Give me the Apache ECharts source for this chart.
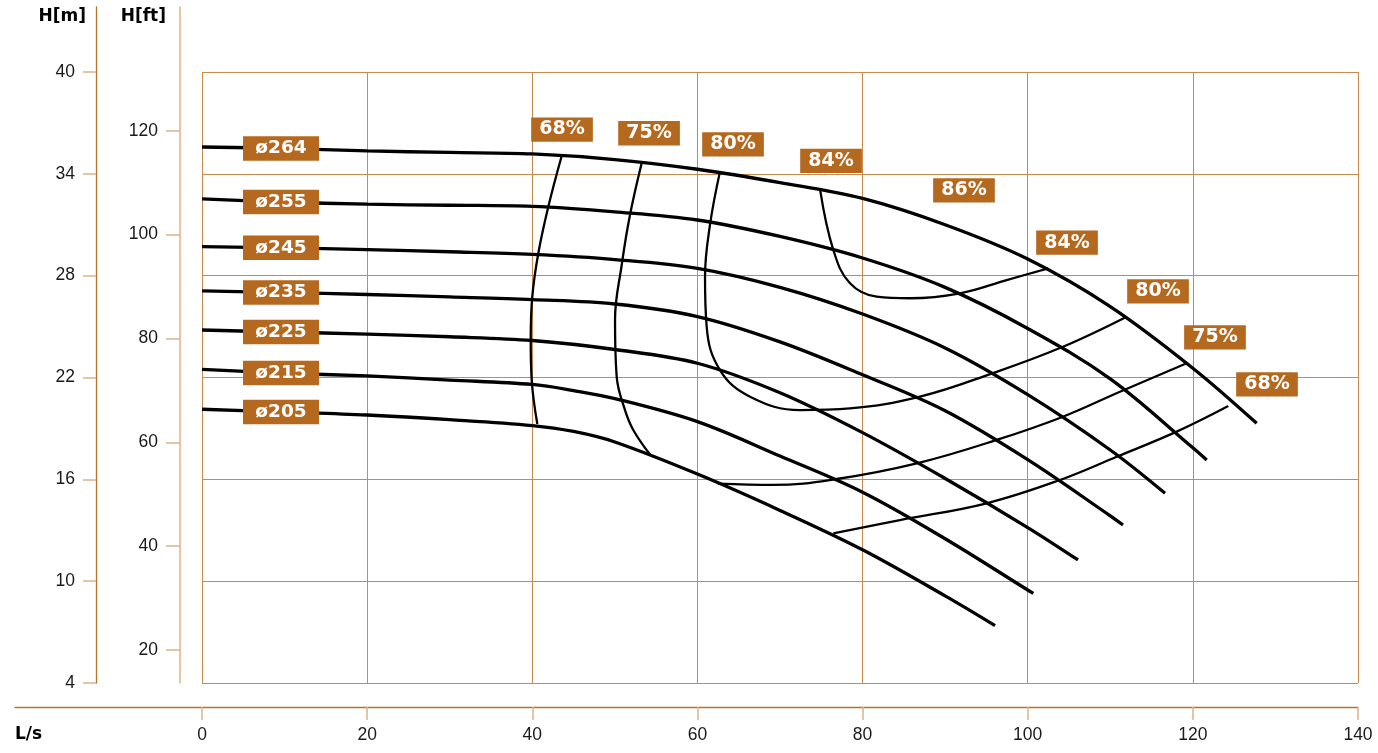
<!DOCTYPE html>
<html><head><meta charset="utf-8">
<script src="https://cdn.jsdelivr.net/npm/echarts@6/dist/echarts.min.js"></script>
<style>html,body{margin:0;padding:0;background:#fff}#c{width:1378px;height:753px}</style>
</head><body><div id="c"></div>
<script>
// ---- tick values ----
const xTicks = [0, 20, 40, 60, 80, 100, 120, 140];      // L/s
const hmTicks = [4, 10, 16, 22, 28, 34, 40];            // H[m]
const hftTicks = [20, 40, 60, 80, 100, 120];            // H[ft]

// ---- pump curves [Q (L/s), H (m)] ----
const d264 = [[0,35.58],[9.57,35.50],[20,35.35],[30,35.26],[40,35.17],[50,34.84],[60,34.27],[70,33.48],[80,32.55],[90,31.00],[100,28.98],[110,26.18],[120,22.55],[127.73,19.30]];
const d255 = [[0,32.52],[9.57,32.34],[20,32.21],[30,32.15],[40,32.08],[50,31.76],[60,31.28],[70,30.31],[80,29.04],[90,27.31],[100,24.89],[110,21.92],[120,17.86],[121.68,17.14]];
const d245 = [[0,29.71],[9.57,29.64],[20,29.54],[30,29.41],[40,29.25],[50,28.95],[60,28.43],[70,27.31],[80,25.74],[90,23.74],[100,20.99],[110,17.73],[116.63,15.18]];
const d235 = [[0,27.10],[9.57,27.01],[20,26.89],[30,26.75],[40,26.59],[50,26.33],[60,25.59],[70,24.10],[80,22.16],[90,20.04],[100,17.16],[110,13.85],[111.54,13.31]];
const d225 = [[0,24.80],[9.57,24.68],[20,24.56],[30,24.40],[40,24.18],[50,23.65],[60,22.84],[70,21.10],[80,18.75],[90,16.05],[100,13.16],[106.09,11.25]];
const d215 = [[0,22.48],[9.57,22.26],[20,22.09],[30,21.85],[40,21.59],[45,21.23],[50,20.76],[60,19.40],[70,17.37],[80,15.24],[90,12.50],[100,9.48],[100.68,9.28]];
const d205 = [[0,20.13],[9.57,19.97],[20,19.79],[30,19.52],[40,19.17],[45,18.82],[50,18.20],[60,16.31],[70,14.17],[80,11.85],[90,9.13],[96.04,7.38]];
const pumpNames = ['ø264', 'ø255', 'ø245', 'ø235', 'ø225', 'ø215', 'ø205'];
const pumpData = [d264, d255, d245, d235, d225, d215, d205];

// ---- efficiency iso-curves [Q (L/s), H (m)] ----
const e68a = [[43.56,35.05],[41.94,32.06],[40.73,29.32],[40.0,26.76],[39.81,24.21],[39.93,21.85],[40.61,19.26]];
const e68b = [[76.46,12.82],[84.53,13.60],[95.03,14.59],[103.91,15.96],[110.78,17.33],[118.04,18.81],[124.29,20.32]];
const e75a = [[53.25,34.64],[51.83,31.57],[50.83,28.63],[50.02,25.39],[50.22,22.05],[51.23,20.08],[52.23,18.91],[54.26,17.46]];
const e75b = [[62.49,15.75],[69.15,15.67],[76.87,16.02],[86.56,16.94],[96.24,18.32],[104.27,19.69],[111.17,21.16],[119.25,22.84]];
const e80 = [[62.73,34.13],[61.52,30.99],[60.92,27.94],[61.12,24.99],[62.73,22.44],[66.37,20.87],[72.42,20.08],[78.48,20.18],[86.95,20.87],[95.8,22.26],[104.27,23.81],[111.99,25.58]];
const e84 = [[74.84,33.11],[76.46,29.51],[78.48,27.55],[81.71,26.76],[85.74,26.67],[91.8,26.96],[97.45,27.74],[102.49,28.43]];
const effCurves = [e68a, e68b, e75a, e75b, e80, e84];

// ---- efficiency labels: text and anchor [Q, H] ----
const effLabelText = ['68%', '75%', '80%', '84%', '86%', '84%', '80%', '75%', '68%'];
const effLabelQ = [43.60, 54.14, 64.31, 76.18, 92.28, 104.76, 115.78, 122.68, 128.98];
const effLabelH = [36.61, 36.39, 35.73, 34.76, 33.02, 29.95, 27.08, 24.37, 21.60];

// ---- styles ----
const BROWN = '#B4691F';
const AXIS = '#B8722C';
const TAN = '#DDB38A';
const GRID = '#C98B4C';
const TXT = '#1a1a1a';
const REG = 'Liberation Sans';
const BOLD = 'DejaVu Sans';

const chart = echarts.init(document.getElementById('c'), null, {renderer: 'canvas'});

const series = [];
pumpData.forEach((d, i) => {
  series.push({
    type: 'line', xAxisIndex: 0, yAxisIndex: 0, data: d, smooth: 0.35,
    showSymbol: false, silent: true, z: 3,
    lineStyle: {color: '#000', width: 3.3},
    markPoint: {
      silent: true, symbol: 'rect', symbolSize: [76, 24.5],
      itemStyle: {color: BROWN, opacity: 1},
      label: {show: true, position: 'inside', formatter: pumpNames[i], color: '#fff',
        fontFamily: BOLD, fontWeight: 'bold', fontSize: 18.5},
      data: [{coord: d[1]}]
    }
  });
});
effCurves.forEach(d => {
  series.push({
    type: 'line', xAxisIndex: 0, yAxisIndex: 0, data: d, smooth: 0.4,
    showSymbol: false, silent: true, z: 2,
    lineStyle: {color: '#000', width: 2.3}
  });
});
series.push({
  type: 'scatter', xAxisIndex: 0, yAxisIndex: 0, silent: true, z: 5,
  symbol: 'rect', symbolSize: [61.7, 24.3], itemStyle: {color: BROWN, opacity: 1},
  label: {show: true, position: 'inside', formatter: p => effLabelText[p.dataIndex],
    color: '#fff', fontFamily: BOLD, fontWeight: 'bold', fontSize: 19},
  data: effLabelQ.map((q, i) => [q, effLabelH[i]])
});

const hidden = {show: false};
const option = {
  animation: false,
  backgroundColor: '#fff',
  grid: [
    {left: 202, top: 72, width: 1156, height: 611},     // 0 plot
    {left: 180, top: 130.7, width: 1, height: 519.3},   // 1 H[ft] ticks
    {left: 96, top: 7, width: 84, height: 676},         // 2 vertical axis lines
    {left: 15, top: 690, width: 1343, height: 17},      // 3 bottom axis line
    {left: 96, top: 72, width: 1, height: 611},         // 4 H[m] ticks
    {left: 202, top: 72, width: 1156, height: 635}      // 5 L/s ticks
  ],
  xAxis: [
    {gridIndex: 0, type: 'value',
     min: xTicks[0], max: xTicks[xTicks.length - 1], interval: 20,
     axisLine: hidden, axisTick: hidden, axisLabel: hidden,
     splitLine: {show: true, lineStyle: {color: GRID, width: 1}}},
    {gridIndex: 1, type: 'value', show: false},
    {gridIndex: 2, type: 'value', show: false},
    {gridIndex: 3, type: 'value', min: 0, max: 1, position: 'bottom',
     axisLine: {show: true, lineStyle: {color: AXIS, width: 1.3}},
     axisTick: hidden, axisLabel: hidden, splitLine: hidden,
     name: 'L/s', nameLocation: 'start', nameGap: 0,
     nameTextStyle: {align: 'left', verticalAlign: 'top', padding: [19, 0, 0, 0],
       color: '#000', fontFamily: BOLD, fontWeight: 'bold', fontSize: 17}},
    {gridIndex: 4, type: 'value', show: false},
    {gridIndex: 5, type: 'value', position: 'bottom',
     min: xTicks[0], max: xTicks[xTicks.length - 1], interval: 20,
     axisLine: hidden,
     axisTick: {show: true, length: 13, lineStyle: {color: TAN, width: 1.5}},
     axisLabel: {margin: 19, color: TXT, fontFamily: REG, fontSize: 17.5},
     splitLine: hidden}
  ],
  yAxis: [
    {gridIndex: 0, type: 'value',
     min: hmTicks[0], max: hmTicks[hmTicks.length - 1], interval: 6,
     axisLine: hidden, axisTick: hidden, axisLabel: hidden,
     splitLine: {show: true, lineStyle: {color: GRID, width: 1}}},
    {gridIndex: 1, type: 'value', position: 'left',
     min: hftTicks[0], max: hftTicks[hftTicks.length - 1], interval: 20,
     axisLine: hidden,
     axisTick: {show: true, length: 14, lineStyle: {color: TAN, width: 1.5}},
     axisLabel: {margin: 22, color: TXT, fontFamily: REG, fontSize: 17.5},
     splitLine: hidden},
    {gridIndex: 2, type: 'value', position: 'left', min: 0, max: 1,
     axisLine: {show: true, lineStyle: {color: AXIS, width: 1.3}},
     axisTick: hidden, axisLabel: hidden, splitLine: hidden,
     name: 'H[m]', nameLocation: 'end', nameGap: -10,
     nameTextStyle: {align: 'right', verticalAlign: 'middle', padding: [0, 10, 0, 0],
       color: '#000', fontFamily: BOLD, fontWeight: 'bold', fontSize: 17}},
    {gridIndex: 2, type: 'value', position: 'right', min: 0, max: 1,
     axisLine: {show: true, lineStyle: {color: TAN, width: 1.5}},
     axisTick: hidden, axisLabel: hidden, splitLine: hidden,
     name: 'H[ft]', nameLocation: 'end', nameGap: -10,
     nameTextStyle: {align: 'right', verticalAlign: 'middle', padding: [0, 14, 0, 0],
       color: '#000', fontFamily: BOLD, fontWeight: 'bold', fontSize: 17}},
    {gridIndex: 3, type: 'value', show: false},
    {gridIndex: 4, type: 'value', position: 'left',
     min: hmTicks[0], max: hmTicks[hmTicks.length - 1], interval: 6,
     axisLine: hidden,
     axisTick: {show: true, length: 13, lineStyle: {color: TAN, width: 1.5}},
     axisLabel: {margin: 21, color: TXT, fontFamily: REG, fontSize: 17.5},
     splitLine: hidden},
    {gridIndex: 5, type: 'value', show: false}
  ],
  series: series
};
chart.setOption(option);
</script>
</body></html>
